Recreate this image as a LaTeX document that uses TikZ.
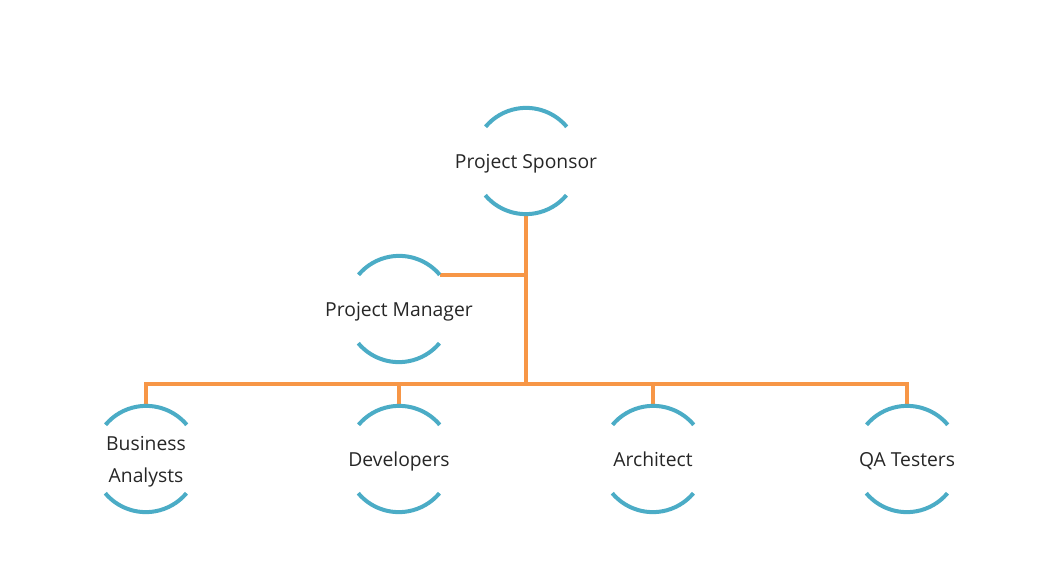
\documentclass[tikz,border=0pt]{standalone}
\usepackage{fontspec}
\setmainfont{Open Sans}
\begin{document}
\begin{tikzpicture}[x=1pt,y=1pt,
  circ/.style={circle,minimum size=106pt,inner sep=0pt,draw=none},
  lbl/.style={font=\fontsize{19.3}{32}\selectfont,text=black!85,align=center,yshift=-2.5pt},
  onelbl/.style={lbl,text height=14pt,text depth=4.5pt},
  arcline/.style={draw=arcblue,line width=4pt},
  conn/.style={draw=connorange,line width=4pt}]
\definecolor{arcblue}{HTML}{4BACC6}
\definecolor{connorange}{HTML}{F79646}
\useasboundingbox (0,0) rectangle (1039,574);
% circles
\node[circ] (ps) at (526,413) {};
\node[circ] (pm) at (399,265) {};
\node[circ] (ba) at (146,115) {};
\node[circ] (dv) at (399,115) {};
\node[circ] (ar) at (653,115) {};
\node[circ] (qa) at (907,115) {};
% labels
\node[onelbl] (tps) at (ps) {Project Sponsor};
\node[onelbl] (tpm) at (pm) {Project Manager};
\node[lbl] (tba) at (ba) {Business\\Analysts};
\node[onelbl] (tdv) at (dv) {Developers};
\node[onelbl] (tar) at (ar) {Architect};
\node[onelbl] (tqa) at (qa) {QA Testers};
% connectors
\coordinate (hub) at (526,190);
\draw[conn] (ps.south) -- (hub);
\draw[conn] (pm.40) -- (pm.40 -| ps.south);
\draw[conn] (ba.north) -- (ba.north |- hub) -- (qa.north |- hub) -- (qa.north);
\draw[conn] (dv.north) -- (dv.north |- hub);
\draw[conn] (ar.north) -- (ar.north |- hub);
% arcs
\foreach \n in {ps,pm,ba,dv,ar,qa}{
  \draw[arcline] (\n.40) arc[start angle=40,end angle=140,radius=53pt];
  \draw[arcline] (\n.220) arc[start angle=220,end angle=320,radius=53pt];
}
\end{tikzpicture}
\end{document}
